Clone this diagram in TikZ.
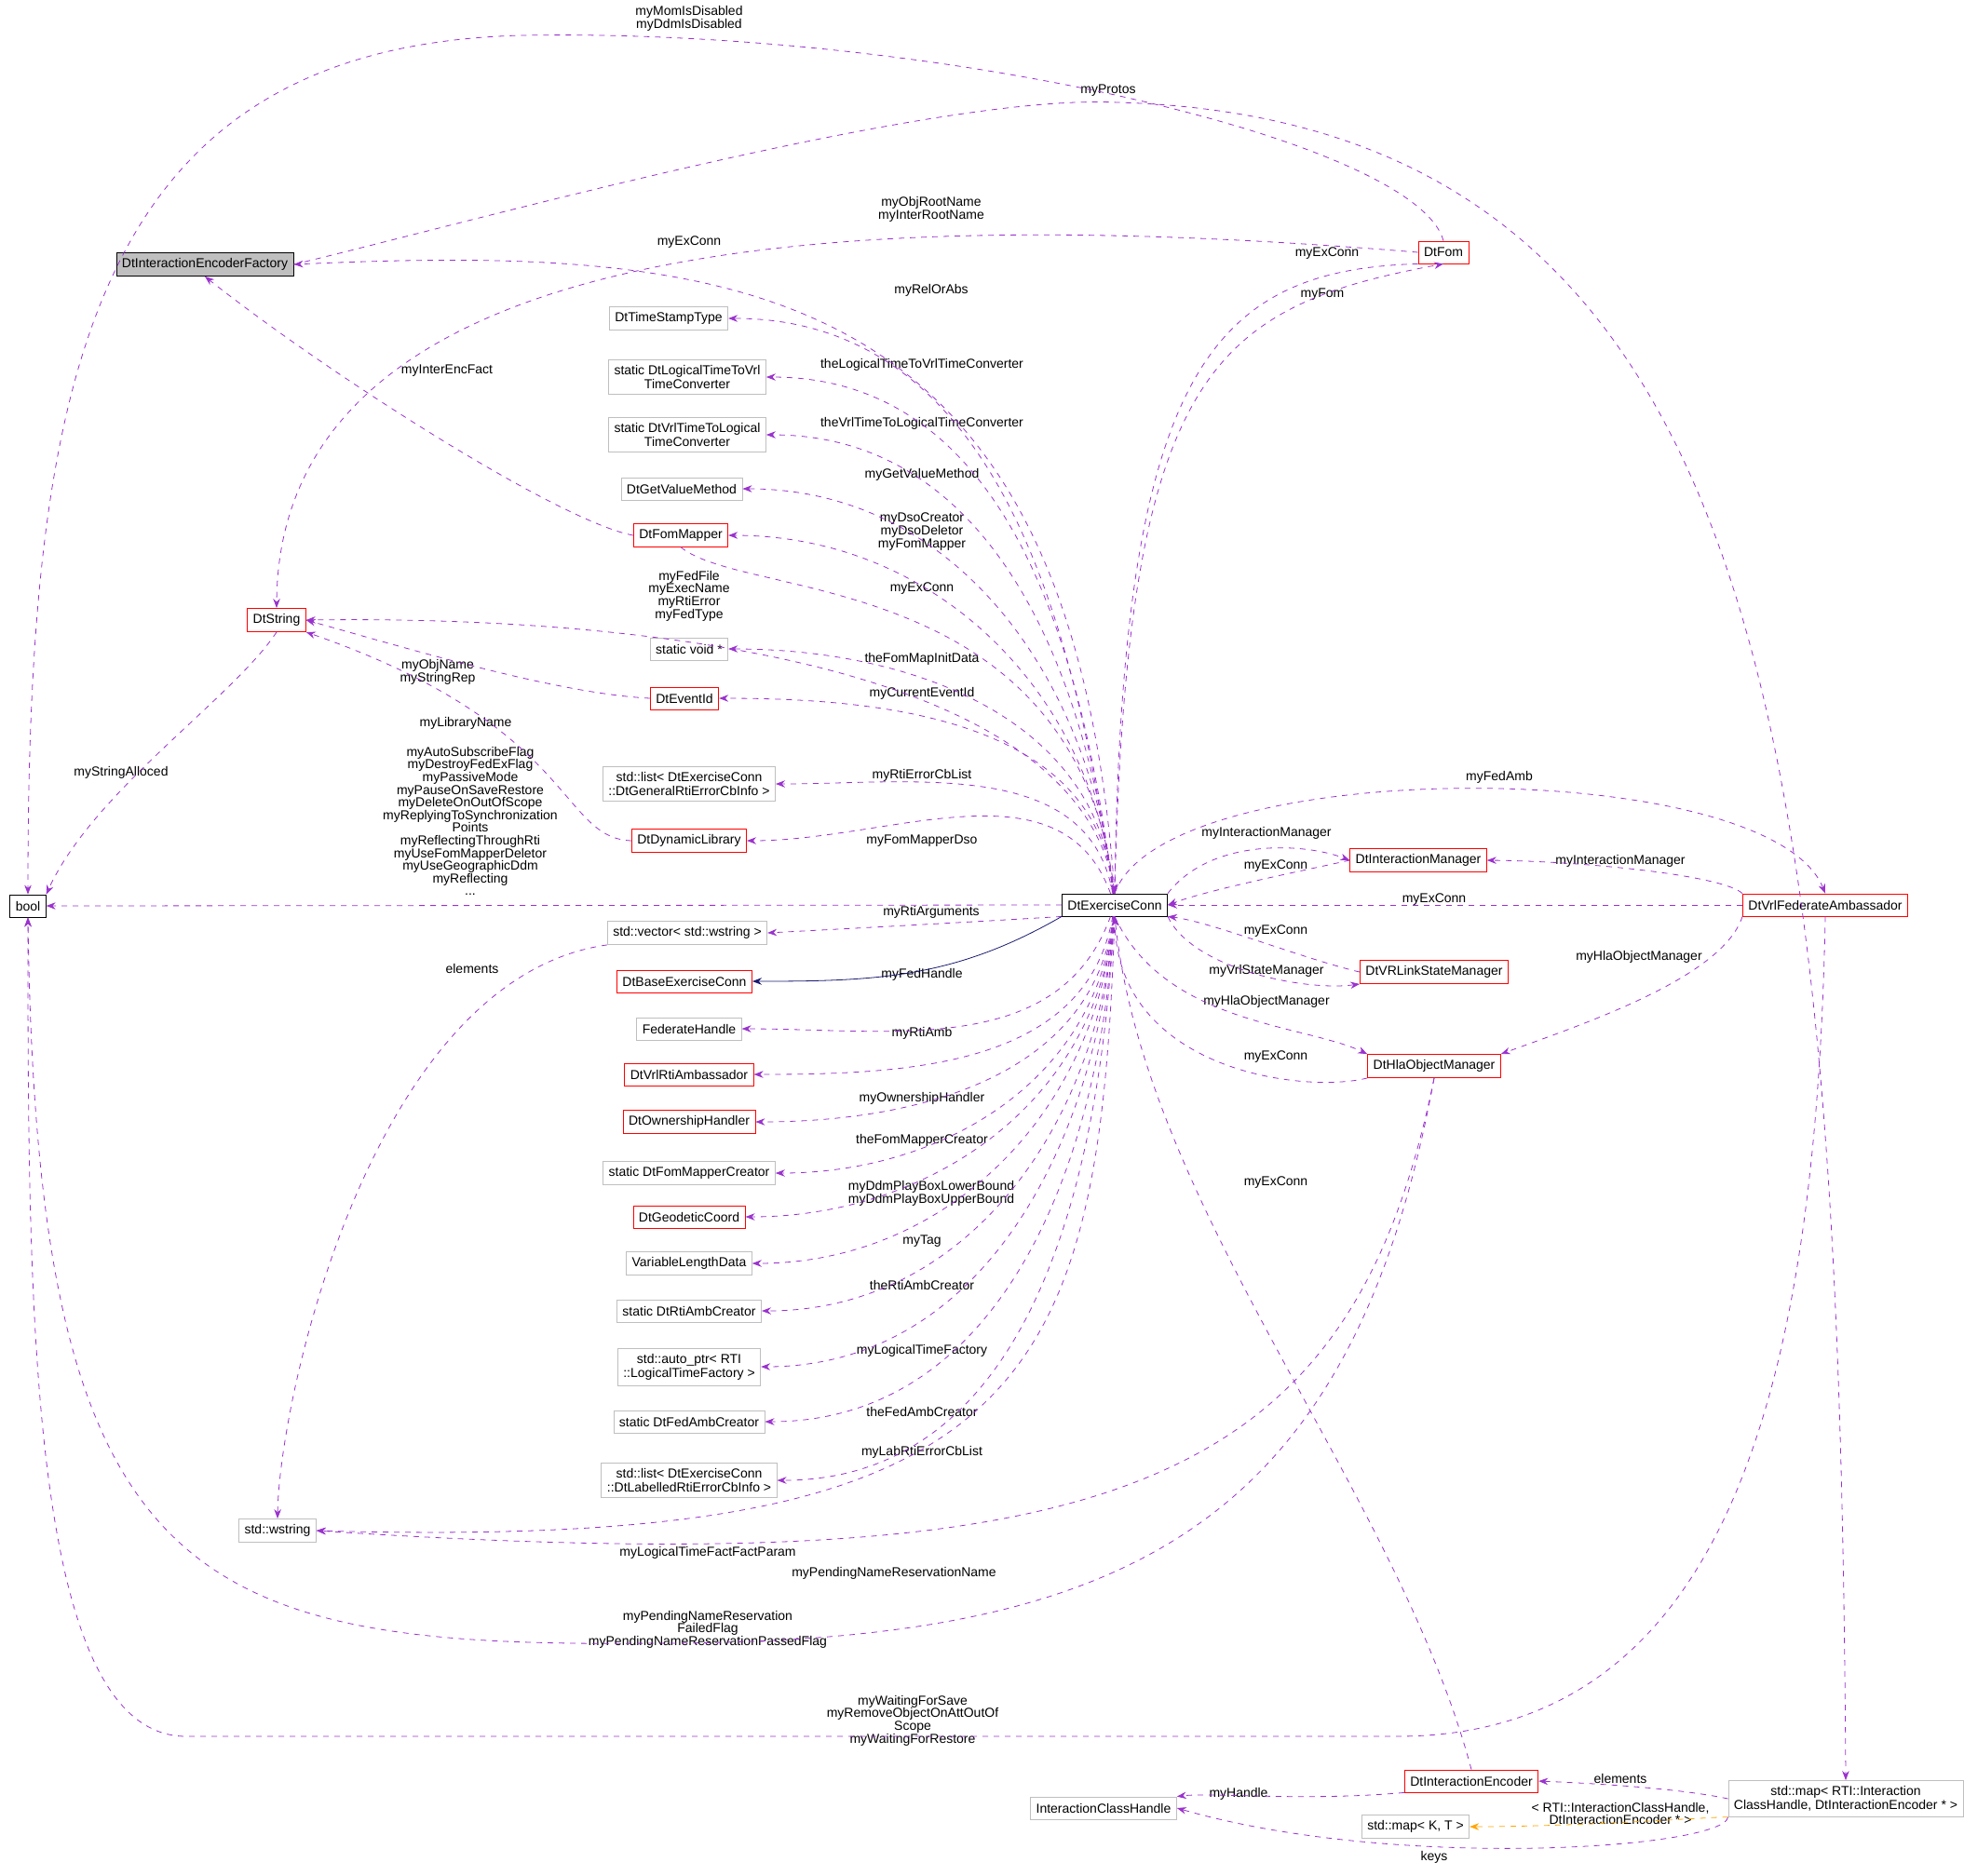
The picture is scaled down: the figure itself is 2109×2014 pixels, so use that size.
\documentclass[tikz,border=0pt]{standalone}
\usepackage{fontspec}
\setmainfont{Liberation Sans}
\usetikzlibrary{arrows.meta}
\definecolor{edgepurple}{HTML}{9A32CD}
\definecolor{boxgray}{HTML}{BFBFBF}
\definecolor{inhnavy}{HTML}{191970}
\definecolor{tmplorange}{HTML}{FFA500}
\tikzset{
  box/.style={draw=boxgray, fill=white, font=\fontsize{7}{7.5}\selectfont, align=center, inner sep=3pt, minimum height=12pt},
  redbox/.style={box, draw=red},
  blackbox/.style={box, draw=black},
  lbl/.style={font=\fontsize{7}{6.8}\selectfont, align=center, inner sep=0pt},
  use/.style={-{Stealth[length=5pt]}, dashed, draw=edgepurple},
  inh/.style={-{Stealth[length=5pt]}, draw=inhnavy},
  tmpl/.style={-{Stealth[length=5pt]}, dashed, draw=tmplorange},
}
\begin{document}
\begin{tikzpicture}[x=0.5pt, y=-0.5pt]
    \useasboundingbox (0,0) rectangle (2109,2014);

    % classes
    \node[blackbox, fill=boxgray] (fac) at (220,284) {DtInteractionEncoderFactory};
    \node[box] (tst) at (718,342) {DtTimeStampType};
    \node[box] (l2v) at (738,405) {static DtLogicalTimeToVrl\\TimeConverter};
    \node[box] (v2l) at (738,467) {static DtVrlTimeToLogical\\TimeConverter};
    \node[box] (gvm) at (732,525) {DtGetValueMethod};
    \node[redbox] (fm) at (731,575) {DtFomMapper};
    \node[redbox] (str) at (297,666) {DtString};
    \node[box] (sv) at (740,697) {static void *};
    \node[redbox] (ev) at (735,750) {DtEventId};
    \node[box] (gel) at (740,842) {std::list< DtExerciseConn\\::DtGeneralRtiErrorCbInfo >};
    \node[redbox] (dl) at (740,903) {DtDynamicLibrary};
    \node[blackbox] (bool) at (30,973) {bool};
    \node[blackbox] (ec) at (1197,972) {DtExerciseConn};
    \node[box] (vec) at (738,1002) {std::vector< std::wstring >};
    \node[redbox] (base) at (735,1054) {DtBaseExerciseConn};
    \node[box] (fh) at (740,1105) {FederateHandle};
    \node[redbox] (vra) at (740,1154) {DtVrlRtiAmbassador};
    \node[redbox] (oh) at (740,1205) {DtOwnershipHandler};
    \node[box] (fmc) at (740,1260) {static DtFomMapperCreator};
    \node[redbox] (gc) at (740,1307) {DtGeodeticCoord};
    \node[box] (vld) at (740,1357) {VariableLengthData};
    \node[box] (rac) at (740,1408) {static DtRtiAmbCreator};
    \node[box] (ap) at (740,1468) {std::auto\_ptr< RTI\\::LogicalTimeFactory >};
    \node[box] (fac2) at (740,1527) {static DtFedAmbCreator};
    \node[box] (lel) at (740,1590) {std::list< DtExerciseConn\\::DtLabelledRtiErrorCbInfo >};
    \node[box] (ws) at (298,1644) {std::wstring};
    \node[redbox] (fom) at (1550,271) {DtFom};
    \node[redbox] (im) at (1523,924) {DtInteractionManager};
    \node[redbox] (fa) at (1960,972) {DtVrlFederateAmbassador};
    \node[redbox] (vsm) at (1540,1044) {DtVRLinkStateManager};
    \node[redbox] (hom) at (1540,1145) {DtHlaObjectManager};
    \node[redbox] (ie) at (1580,1913) {DtInteractionEncoder};
    \node[box] (ich) at (1185,1942) {InteractionClassHandle};
    \node[box] (mkt) at (1520,1962) {std::map< K, T >};
    \node[box] (mapr) at (1982,1932) {std::map< RTI::Interaction\\ClassHandle, DtInteractionEncoder * >};

    % labels
    \node[lbl] (lb1) at (740,20) {myMomIsDisabled\\myDdmIsDisabled};
    \node[lbl] (lb2) at (1190,97) {myProtos};
    \node[lbl] (lb3) at (1000,225) {myObjRootName\\myInterRootName};
    \node[lbl] (lb4) at (740,260) {myExConn};
    \node[lbl] (lb5) at (1425,272) {myExConn};
    \node[lbl] (lb6) at (1420,316) {myFom};
    \node[lbl] (lb7) at (1000,312) {myRelOrAbs};
    \node[lbl] (lb8) at (990,392) {theLogicalTimeToVrlTimeConverter};
    \node[lbl] (lb9) at (990,455) {theVrlTimeToLogicalTimeConverter};
    \node[lbl] (lb10) at (990,510) {myGetValueMethod};
    \node[lbl] (lb11) at (480,398) {myInterEncFact};
    \node[lbl] (lb12) at (990,571) {myDsoCreator\\myDsoDeletor\\myFomMapper};
    \node[lbl] (lb13) at (990,632) {myExConn};
    \node[lbl] (lb14) at (740,640) {myFedFile\\myExecName\\myRtiError\\myFedType};
    \node[lbl] (lb15) at (990,708) {theFomMapInitData};
    \node[lbl] (lb16) at (470,722) {myObjName\\myStringRep};
    \node[lbl] (lb17) at (130,830) {myStringAlloced};
    \node[lbl] (lb18) at (500,777) {myLibraryName};
    \node[lbl] (lb19) at (990,745) {myCurrentEventId};
    \node[lbl] (lb20) at (990,833) {myRtiErrorCbList};
    \node[lbl] (lb21) at (990,903) {myFomMapperDso};
    \node[lbl] (lb22) at (505,882) {myAutoSubscribeFlag\\myDestroyFedExFlag\\myPassiveMode\\myPauseOnSaveRestore\\myDeleteOnOutOfScope\\myReplyingToSynchronization\\Points\\myReflectingThroughRti\\myUseFomMapperDeletor\\myUseGeographicDdm\\myReflecting\\...};
    \node[lbl] (lb23) at (1000,980) {myRtiArguments};
    \node[lbl] (lb25) at (507,1040) {elements};
    \node[lbl] (lb26) at (990,1047) {myFedHandle};
    \node[lbl] (lb27) at (990,1110) {myRtiAmb};
    \node[lbl] (lb28) at (990,1180) {myOwnershipHandler};
    \node[lbl] (lb29) at (990,1225) {theFomMapperCreator};
    \node[lbl] (lb30) at (1000,1282) {myDdmPlayBoxLowerBound\\myDdmPlayBoxUpperBound};
    \node[lbl] (lb31) at (990,1333) {myTag};
    \node[lbl] (lb32) at (990,1380) {theRtiAmbCreator};
    \node[lbl] (lb33) at (990,1451) {myLogicalTimeFactory};
    \node[lbl] (lb34) at (990,1516) {theFedAmbCreator};
    \node[lbl] (lb35) at (990,1560) {myLabRtiErrorCbList};
    \node[lbl] (lb36) at (760,1668) {myLogicalTimeFactFactParam};
    \node[lbl] (lb37) at (960,1690) {myPendingNameReservationName};
    \node[lbl] (lb38) at (760,1750) {myPendingNameReservation\\FailedFlag\\myPendingNameReservationPassedFlag};
    \node[lbl] (lb39) at (980,1848) {myWaitingForSave\\myRemoveObjectOnAttOutOf\\Scope\\myWaitingForRestore};
    \node[lbl] (lb40) at (1610,835) {myFedAmb};
    \node[lbl] (lb41) at (1360,895) {myInteractionManager};
    \node[lbl] (lb42) at (1370,930) {myExConn};
    \node[lbl] (lb43) at (1740,925) {myInteractionManager};
    \node[lbl] (lb44) at (1540,966) {myExConn};
    \node[lbl] (lb45) at (1370,1000) {myExConn};
    \node[lbl] (lb46) at (1360,1043) {myVrlStateManager};
    \node[lbl] (lb47) at (1360,1076) {myHlaObjectManager};
    \node[lbl] (lb48) at (1760,1028) {myHlaObjectManager};
    \node[lbl] (lb49) at (1370,1135) {myExConn};
    \node[lbl] (lb50) at (1370,1270) {myExConn};
    \node[lbl] (lb51) at (1330,1927) {myHandle};
    \node[lbl] (lb52) at (1740,1910) {elements};
    \node[lbl] (lb53) at (1740,1948) {< RTI::InteractionClassHandle,\\DtInteractionEncoder * >};
    \node[lbl] (lb54) at (1540,1995) {keys};

    % top connectors
    \draw[use] (fom.north) .. controls (1520,150) and (1000,30) .. (560,38) .. controls (100,50) and (30,400) .. (bool.north);
    \draw[use] (fac.east) .. controls (500,240) and (1000,100) .. (1200,110) .. controls (1900,130) and (1975,800) .. (mapr.north);
    \draw[use] (fom.west) .. controls (1000,228) and (300,225) .. (str.north);
    \draw[use] (ec.north) .. controls (1150,300) and (800,262) .. (fac.east);
    \draw[use] (fom.south west) .. controls (1300,290) and (1205,400) .. (ec.north);
    \draw[use] (ec.north) .. controls (1210,400) and (1300,330) .. (fom.south);
    \draw[use] (fm.west) .. controls (600,560) and (350,400) .. (fac.south);
    \draw[use] (fm.south) .. controls (800,645) and (1150,610) .. (ec.north);
    \draw[use] (ec.north) .. controls (1160,690) and (600,662) .. (str.east);
    \draw[use] (ev.west) .. controls (600,745) and (450,700) .. (str.east);
    \draw[use] (dl.west) .. controls (600,900) and (620,780) .. (str.south east);
    \draw[use] (str.south) .. controls (250,750) and (100,850) .. (bool.north east);
    \draw[use] (ec.west) -- (bool.east);

    % members of DtExerciseConn, left column
    \foreach \t/\o in {tst/98, l2v/97, v2l/97, gvm/96, fm/96, sv/95, ev/95, gel/100, dl/110}
      \draw[use] (ec) to[out=\o, in=0] (\t.east);
    \draw[use] (ec.south west) .. controls (1050,990) and (900,998) .. (vec.east);
    \draw[inh] (ec.south west) to[out=-150, in=0] (base.east);
    \draw[use] (vec.south west) .. controls (400,1050) and (300,1500) .. (ws.north);
    \foreach \t/\o in {fh/-110, vra/-100, oh/-97, fmc/-96, gc/-95, vld/-95, rac/-94, ap/-94, fac2/-93, lel/-93}
      \draw[use] (ec) to[out=\o, in=0] (\t.east);
    \draw[use] (ec.south) .. controls (1180,1500) and (1100,1665) .. (ws.east);
    \draw[use] (hom.south) .. controls (1450,1600) and (1200,1700) .. (ws.east);
    \draw[use] (hom.south) .. controls (1450,1650) and (1200,1765) .. (700,1765) .. controls (200,1770) and (40,1700) .. (bool.south);
    \draw[use] (fa.south) .. controls (1950,1500) and (1850,1865) .. (1500,1865) -- (200,1865) .. controls (30,1865) and (30,1400) .. (bool.south);

    % right group
    \draw[use] (ec.north) .. controls (1250,810) and (1900,810) .. (fa.north);
    \draw[use] (ec.north east) .. controls (1300,900) and (1400,905) .. (im.west);
    \draw[use] (im.west) .. controls (1400,935) and (1300,955) .. (ec.east);
    \draw[use] (fa.north west) .. controls (1850,940) and (1700,925) .. (im.east);
    \draw[use] (fa.west) -- (ec.east);
    \draw[use] (vsm.west) .. controls (1400,1030) and (1300,990) .. (ec.south east);
    \draw[use] (ec.south east) .. controls (1280,1040) and (1400,1065) .. (vsm.south west);
    \draw[use] (ec.south) .. controls (1250,1100) and (1400,1100) .. (hom.north west);
    \draw[use] (fa.south west) .. controls (1850,1050) and (1700,1100) .. (hom.north east);
    \draw[use] (hom.south west) .. controls (1400,1175) and (1200,1150) .. (ec.south);

    % bottom
    \draw[use] (ie.north) .. controls (1500,1600) and (1230,1300) .. (ec.south);
    \draw[use] (ie.south west) .. controls (1400,1935) and (1300,1925) .. (ich.north east);
    \draw[use] (mapr.west) .. controls (1800,1920) and (1700,1915) .. (ie.east);
    \draw[tmpl] (mapr.south west) .. controls (1860,1950) and (1700,1962) .. (mkt.east);
    \draw[use] (mapr.south west) .. controls (1850,1985) and (1500,2010) .. (ich.east);
\end{tikzpicture}
\end{document}
